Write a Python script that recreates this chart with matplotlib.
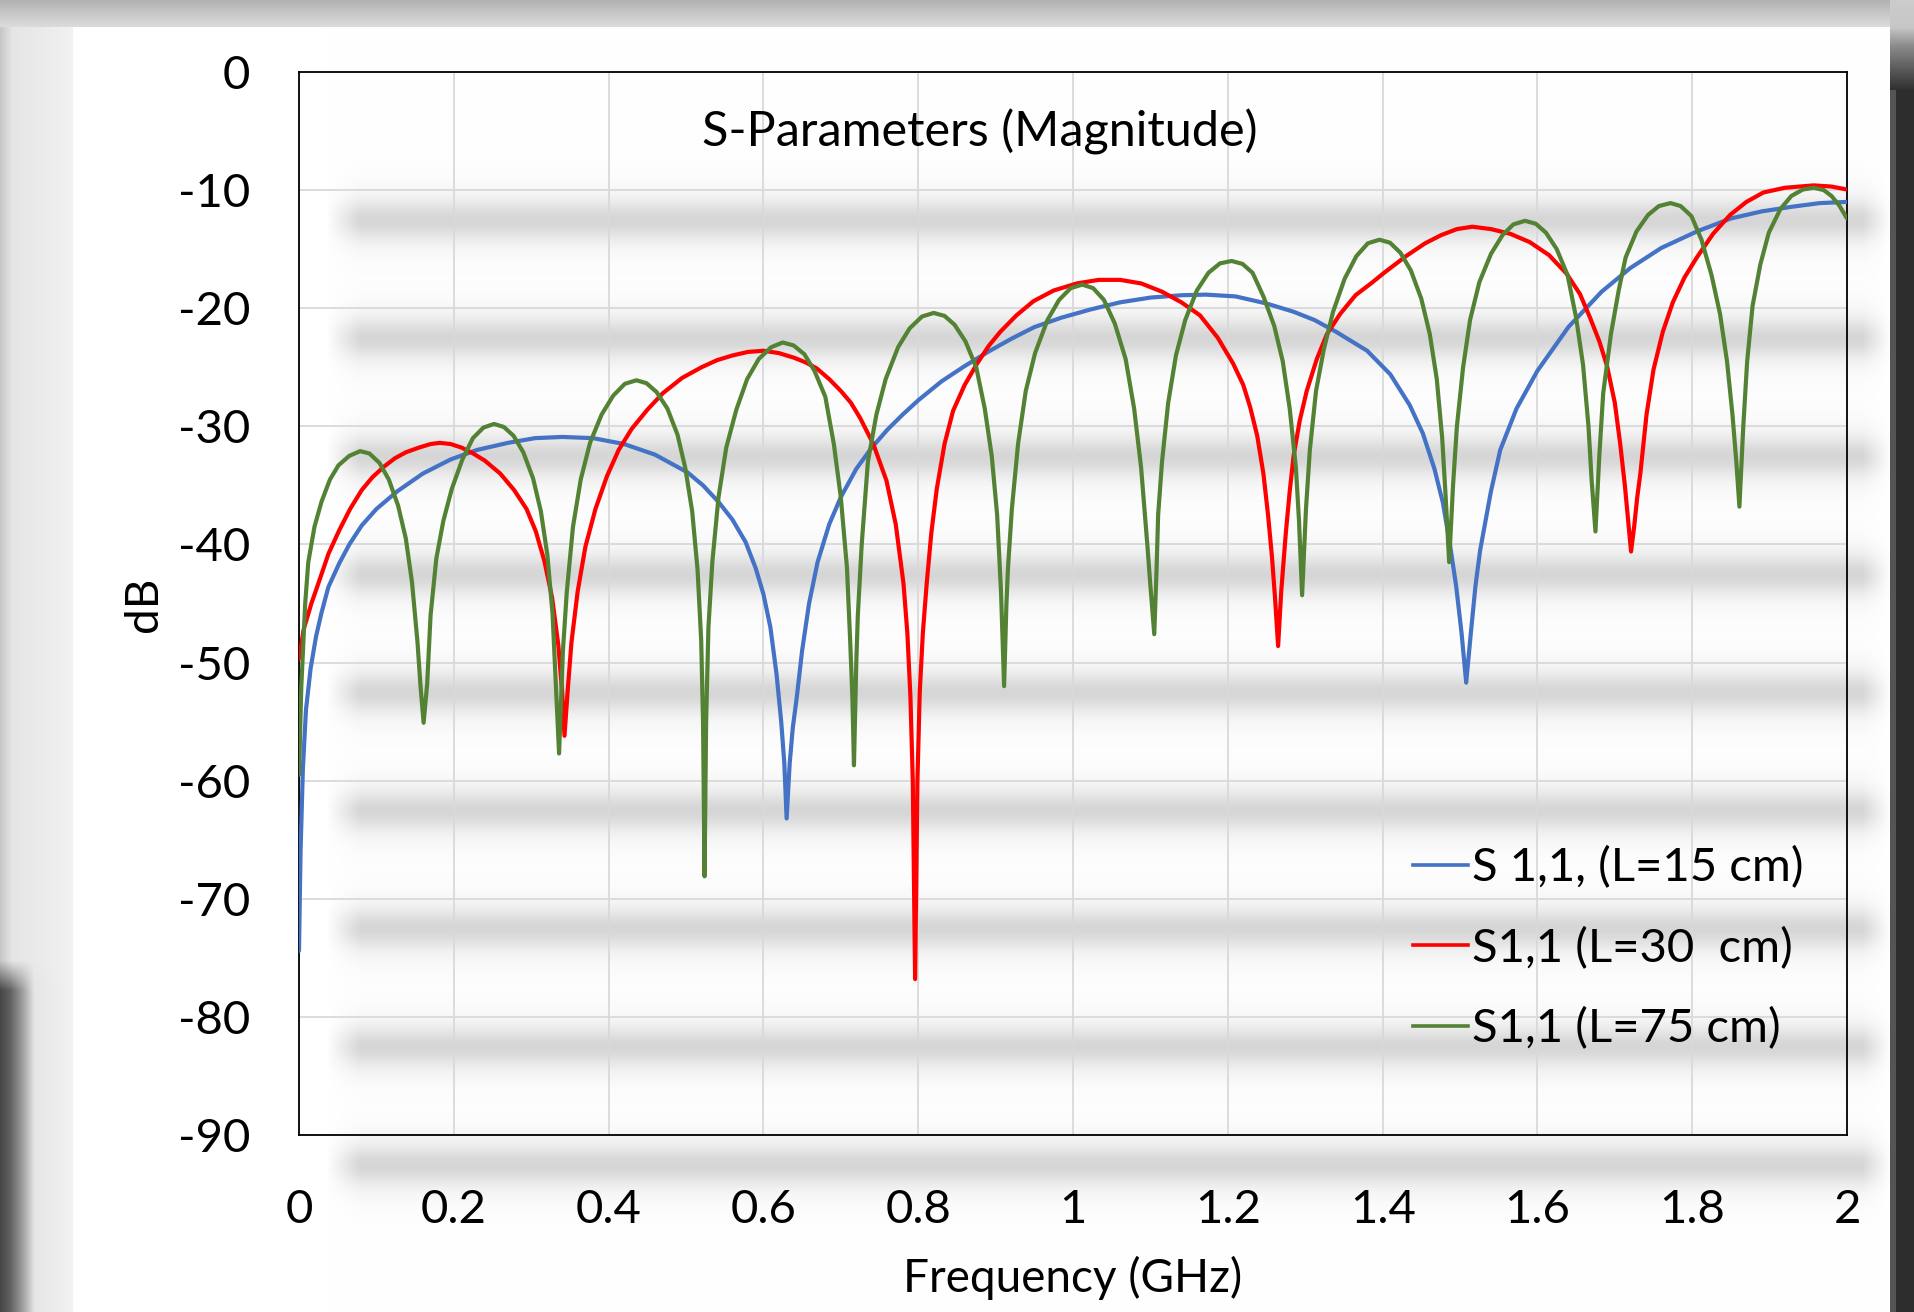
import numpy as np
import matplotlib.pyplot as plt
from matplotlib.lines import Line2D

plt.rcParams['font.family'] = ['Lato', 'DejaVu Sans']
plt.rcParams['axes.unicode_minus'] = False

# S1,1 for L = 15 cm: (frequency GHz, magnitude dB)
blue_pts = [
    (0.000, -74.4), (0.002, -66.0), (0.005, -59.0), (0.009, -54.0), (0.015, -50.5),
    (0.022, -47.8), (0.029, -45.8), (0.038, -43.6), (0.052, -41.6), (0.065, -40.0),
    (0.081, -38.4), (0.100, -37.0), (0.127, -35.5), (0.160, -34.0), (0.196, -32.8),
    (0.230, -32.0), (0.270, -31.4), (0.305, -31.0), (0.340, -30.9), (0.380, -31.0),
    (0.420, -31.5), (0.460, -32.4), (0.502, -33.9), (0.522, -35.0), (0.542, -36.4),
    (0.560, -37.9), (0.577, -39.8), (0.590, -42.0), (0.600, -44.2), (0.609, -47.0),
    (0.617, -51.0), (0.623, -55.0), (0.627, -58.5), (0.630, -63.2), (0.634, -58.5),
    (0.638, -55.5), (0.643, -53.0), (0.650, -49.0), (0.659, -45.0), (0.670, -41.5),
    (0.685, -38.3), (0.700, -36.0), (0.720, -33.6), (0.740, -31.8), (0.760, -30.3),
    (0.780, -29.0), (0.800, -27.8), (0.830, -26.2), (0.860, -24.9), (0.890, -23.7),
    (0.920, -22.6), (0.950, -21.6), (0.985, -20.8), (1.023, -20.1), (1.061, -19.5),
    (1.100, -19.1), (1.140, -18.9), (1.172, -18.85), (1.210, -19.0), (1.250, -19.6),
    (1.285, -20.3), (1.312, -21.0), (1.340, -22.0), (1.380, -23.6), (1.410, -25.6),
    (1.435, -28.2), (1.452, -30.6), (1.467, -33.6), (1.478, -36.5), (1.487, -40.0),
    (1.495, -43.5), (1.502, -47.5), (1.508, -51.7), (1.514, -47.5), (1.520, -43.5),
    (1.526, -40.5), (1.540, -35.5), (1.552, -32.0), (1.573, -28.5), (1.600, -25.3),
    (1.640, -21.6), (1.683, -18.6), (1.720, -16.6), (1.760, -14.9), (1.806, -13.5),
    (1.850, -12.4), (1.890, -11.8), (1.930, -11.4), (1.965, -11.1), (2.000, -11.0),
]

# S1,1 for L = 30 cm
red_pts = [
    (0.000, -49.7), (0.006, -47.2), (0.016, -45.0), (0.025, -43.3), (0.038, -40.8),
    (0.052, -38.8), (0.066, -37.0), (0.081, -35.4), (0.095, -34.3), (0.110, -33.4),
    (0.124, -32.7), (0.138, -32.2), (0.155, -31.8), (0.170, -31.5), (0.182, -31.4),
    (0.196, -31.5), (0.210, -31.8), (0.225, -32.3), (0.240, -32.9), (0.260, -34.0),
    (0.278, -35.4), (0.294, -37.0), (0.306, -38.9), (0.317, -41.4), (0.327, -44.5),
    (0.335, -48.5), (0.340, -52.5), (0.343, -56.2), (0.347, -52.5), (0.352, -48.3),
    (0.360, -44.0), (0.370, -40.2), (0.383, -37.0), (0.398, -34.2), (0.413, -32.0),
    (0.430, -30.2), (0.450, -28.6), (0.470, -27.2), (0.495, -25.9), (0.520, -25.0),
    (0.540, -24.4), (0.560, -24.0), (0.580, -23.7), (0.600, -23.6), (0.620, -23.8),
    (0.640, -24.2), (0.655, -24.6), (0.669, -25.1), (0.685, -26.0), (0.700, -27.0),
    (0.713, -28.0), (0.725, -29.3), (0.742, -31.5), (0.759, -34.6), (0.771, -38.3),
    (0.781, -43.3), (0.786, -47.5), (0.790, -53.0), (0.793, -60.0), (0.796, -76.8),
    (0.799, -60.0), (0.802, -52.5), (0.806, -47.5), (0.811, -43.3), (0.817, -39.0),
    (0.824, -35.3), (0.834, -31.5), (0.845, -28.7), (0.860, -26.5), (0.876, -24.7),
    (0.891, -23.2), (0.906, -22.0), (0.927, -20.6), (0.949, -19.4), (0.975, -18.5),
    (1.005, -17.9), (1.033, -17.6), (1.061, -17.6), (1.088, -17.9), (1.115, -18.6),
    (1.140, -19.5), (1.164, -20.6), (1.187, -22.5), (1.207, -24.7), (1.220, -26.5),
    (1.229, -28.4), (1.238, -30.8), (1.246, -34.0), (1.252, -37.5), (1.257, -41.0),
    (1.261, -44.5), (1.265, -48.6), (1.269, -44.0), (1.275, -39.0), (1.280, -35.5),
    (1.285, -32.5), (1.293, -29.5), (1.302, -27.0), (1.315, -24.3), (1.328, -22.2),
    (1.345, -20.5), (1.365, -18.9), (1.385, -17.9), (1.402, -17.0), (1.430, -15.6),
    (1.455, -14.5), (1.476, -13.8), (1.496, -13.3), (1.516, -13.1), (1.540, -13.3),
    (1.565, -13.7), (1.590, -14.4), (1.615, -15.5), (1.638, -17.1), (1.655, -18.8),
    (1.668, -20.8), (1.680, -22.8), (1.690, -24.9), (1.700, -28.0), (1.707, -31.5),
    (1.713, -35.0), (1.718, -38.5), (1.721, -40.6), (1.725, -38.5), (1.729, -36.0),
    (1.733, -34.0), (1.741, -29.0), (1.750, -25.2), (1.762, -22.0), (1.775, -19.5),
    (1.790, -17.4), (1.806, -15.7), (1.827, -13.7), (1.849, -12.1), (1.870, -11.0),
    (1.892, -10.2), (1.920, -9.8), (1.957, -9.6), (1.980, -9.7), (2.000, -9.95),
]

# S1,1 for L = 75 cm
green_pts = [
    (0.000, -59.5), (0.003, -52.0), (0.008, -45.0), (0.012, -41.5), (0.020, -38.5),
    (0.029, -36.4), (0.040, -34.5), (0.051, -33.3), (0.065, -32.5), (0.079, -32.1),
    (0.091, -32.3), (0.104, -33.1), (0.116, -34.5), (0.128, -36.7), (0.138, -39.5),
    (0.146, -43.2), (0.153, -48.2), (0.157, -52.0), (0.161, -55.1), (0.1656, -51.8),
    (0.170, -46.0), (0.1774, -41.2), (0.1865, -38.0), (0.1974, -35.3), (0.2111, -32.8),
    (0.2247, -31.0), (0.2384, -30.1), (0.252, -29.8), (0.2646, -30.05), (0.2772, -30.8),
    (0.2898, -32.2), (0.3024, -34.4), (0.3125, -37.2), (0.3209, -40.9), (0.3276, -45.9),
    (0.3318, -51.8), (0.336, -57.7), (0.341, -49.0), (0.346, -44.0), (0.354, -38.5),
    (0.364, -34.5), (0.376, -31.4), (0.391, -29.0), (0.406, -27.4), (0.421, -26.4),
    (0.436, -26.1), (0.449, -26.35), (0.462, -27.1), (0.476, -28.5), (0.489, -30.7),
    (0.499, -33.5), (0.508, -37.2), (0.515, -42.2), (0.5196, -48.1), (0.522, -55.0),
    (0.524, -68.1), (0.526, -55.0), (0.529, -47.0), (0.534, -41.5), (0.542, -36.0),
    (0.552, -31.8), (0.565, -28.6), (0.579, -26.0), (0.594, -24.3), (0.610, -23.3),
    (0.625, -22.9), (0.639, -23.15), (0.653, -23.9), (0.666, -25.3), (0.680, -27.5),
    (0.691, -31.5), (0.700, -36.0), (0.708, -42.0), (0.712, -48.0), (0.715, -53.0),
    (0.717, -58.7), (0.720, -50.0), (0.722, -46.0), (0.727, -40.0), (0.735, -33.0),
    (0.746, -29.0), (0.758, -26.0), (0.774, -23.3), (0.789, -21.7), (0.805, -20.7),
    (0.820, -20.4), (0.834, -20.65), (0.847, -21.4), (0.861, -22.8), (0.875, -25.0),
    (0.886, -28.5), (0.895, -32.5), (0.902, -37.5), (0.907, -44.0), (0.911, -52.0),
    (0.914, -45.0), (0.916, -42.0), (0.921, -37.0), (0.929, -31.5), (0.939, -27.0),
    (0.951, -23.8), (0.967, -21.0), (0.982, -19.3), (0.997, -18.3), (1.012, -18.0),
    (1.026, -18.3), (1.040, -19.3), (1.054, -21.3), (1.068, -24.3), (1.079, -28.5),
    (1.088, -33.5), (1.096, -40.0), (1.100, -43.5), (1.105, -47.6), (1.108, -42.0),
    (1.110, -37.5), (1.115, -33.0), (1.123, -28.0), (1.133, -24.0), (1.145, -21.0),
    (1.160, -18.5), (1.175, -17.0), (1.190, -16.2), (1.205, -16.0), (1.219, -16.25),
    (1.232, -17.0), (1.246, -19.0), (1.260, -21.5), (1.271, -24.5), (1.280, -28.5),
    (1.288, -33.5), (1.292, -38.0), (1.296, -44.3), (1.301, -37.0), (1.306, -32.0),
    (1.314, -27.0), (1.324, -23.5), (1.336, -20.3), (1.351, -17.5), (1.366, -15.6),
    (1.381, -14.5), (1.396, -14.2), (1.4095, -14.45), (1.423, -15.3), (1.4365, -16.8),
    (1.450, -19.2), (1.461, -22.2), (1.470, -26.0), (1.477, -31.0), (1.4815, -36.0),
    (1.486, -41.5), (1.491, -35.0), (1.496, -30.0), (1.504, -25.0), (1.513, -21.0),
    (1.525, -17.8), (1.540, -15.4), (1.555, -13.8), (1.569, -12.9), (1.584, -12.6),
    (1.598, -12.85), (1.611, -13.6), (1.625, -15.0), (1.639, -17.2), (1.650, -20.8),
    (1.659, -24.8), (1.666, -30.0), (1.670, -34.5), (1.675, -38.9), (1.680, -32.5),
    (1.685, -27.2), (1.695, -22.2), (1.705, -18.5), (1.714, -15.7), (1.728, -13.5),
    (1.743, -12.1), (1.757, -11.35), (1.772, -11.1), (1.785, -11.35), (1.799, -12.2),
    (1.812, -14.2), (1.825, -17.2), (1.836, -20.5), (1.845, -24.5), (1.852, -29.0),
    (1.857, -33.0), (1.861, -36.8), (1.866, -30.0), (1.871, -24.5), (1.878, -19.8),
    (1.888, -16.3), (1.899, -13.6), (1.914, -11.6), (1.928, -10.5), (1.943, -9.95),
    (1.957, -9.8), (1.970, -10.0), (1.980, -10.5), (1.990, -11.3), (2.000, -12.4),
]

series_labels = ['S 1,1, (L=15 cm)', 'S1,1 (L=30  cm)', 'S1,1 (L=75 cm)']
series_colors = ['#4472C4', '#FF0000', '#548235']

x_ticks = [0, 0.2, 0.4, 0.6, 0.8, 1, 1.2, 1.4, 1.6, 1.8, 2]
x_tick_labels = ['0', '0.2', '0.4', '0.6', '0.8', '1', '1.2', '1.4', '1.6', '1.8', '2']
y_ticks = [0, -10, -20, -30, -40, -50, -60, -70, -80, -90]

W, H = 1914, 1312
fig = plt.figure(figsize=(W / 100, H / 100), dpi=100)
ax = fig.add_axes([299 / W, 1 - 1135 / H, (1847 - 299) / W, (1135 - 72) / H])
ax.set_xlim(0, 2)
ax.set_ylim(-90, 0)

# ---- background: grey window frame + blurred shadow bands (screenshot look)
bg = np.ones((H, W))
rows = np.arange(H)[:, None]
cols = np.arange(W)[None, :]

hfade = np.clip((cols - 326) / 34.0, 0, 1) * np.clip((1890 - cols) / 28.0, 0, 1)
dark = np.zeros((H, W))
for g in y_ticks[1:]:
    c = H - ax.transData.transform([[0, g - 2.5]])[0, 1]
    prof = 0.11 * np.exp(-0.5 * ((rows - c) / 13.0) ** 2) \
        + 0.05 * np.exp(-0.5 * ((rows - c) / 26.0) ** 2)
    dark = dark + prof * hfade
bg = bg - dark

bg[0:27, :] = np.linspace(0.70, 0.86, 27)[:, None]
left = np.interp(np.arange(73), [0, 6, 12, 40, 72], [0.78, 0.84, 0.90, 0.92, 0.95])
bg[27:, 0:73] = left[None, :]
lower = np.interp(np.arange(73), [0, 10, 22, 34, 72], [0.28, 0.38, 0.62, 0.90, 0.95])
vfade = np.clip((np.arange(H) - 960) / 30.0, 0, 1)[:, None]
bg[:, 0:73] = bg[:, 0:73] * (1 - vfade) + lower[None, :] * vfade
right_col = np.interp(np.arange(H), [0, 27, 45, 90, H], [0.80, 0.78, 0.55, 0.18, 0.18])
bg[:, 1890:] = right_col[:, None]
bg[90:, 1890:1896] = 0.33

fig.figimage(np.dstack([bg, bg, bg]), xo=0, yo=0, origin='upper', zorder=-10)
ax.patch.set_alpha(0)

# ---- curves
for i, pts in enumerate([blue_pts, red_pts, green_pts]):
    f = [p[0] for p in pts]
    db = [p[1] for p in pts]
    ax.plot(f, db, color=series_colors[i], lw=3.0, solid_joinstyle='round',
            solid_capstyle='round', zorder=3 + i)

ax.set_xticks(x_ticks)
ax.set_xticklabels(x_tick_labels)
ax.set_yticks(y_ticks)
ax.tick_params(axis='both', length=0, labelsize=34)
ax.tick_params(axis='y', pad=35)
ax.tick_params(axis='x', pad=39)
ax.grid(True, color='#d9d9d9', lw=1.3)
ax.set_axisbelow(True)
for s in ax.spines.values():
    s.set_color('black')
    s.set_linewidth(1.3)

ax.text(0.44, 0.944, 'S-Parameters (Magnitude)', transform=ax.transAxes,
        ha='center', va='center', fontsize=35)

ax.set_xlabel('Frequency (GHz)', fontsize=33)
ax.xaxis.set_label_coords(0.5, -(1278 - 1135) / 1063)
ax.xaxis.label.set_verticalalignment('center')
ax.set_ylabel('dB', fontsize=33)
ax.yaxis.set_label_coords(-(299 - 144) / 1548, (1135 - 604) / 1063)
ax.yaxis.label.set_verticalalignment('center')

handles = [Line2D([], [], color=c, lw=2.6) for c in series_colors]
ax.legend(handles, series_labels, loc='center left', bbox_to_anchor=(0.7195, 0.1755),
          frameon=False, fontsize=34, handlelength=1.17, handletextpad=0.08,
          labelspacing=0.79, borderpad=0, borderaxespad=0)

fig.savefig('out.png', dpi=100)
